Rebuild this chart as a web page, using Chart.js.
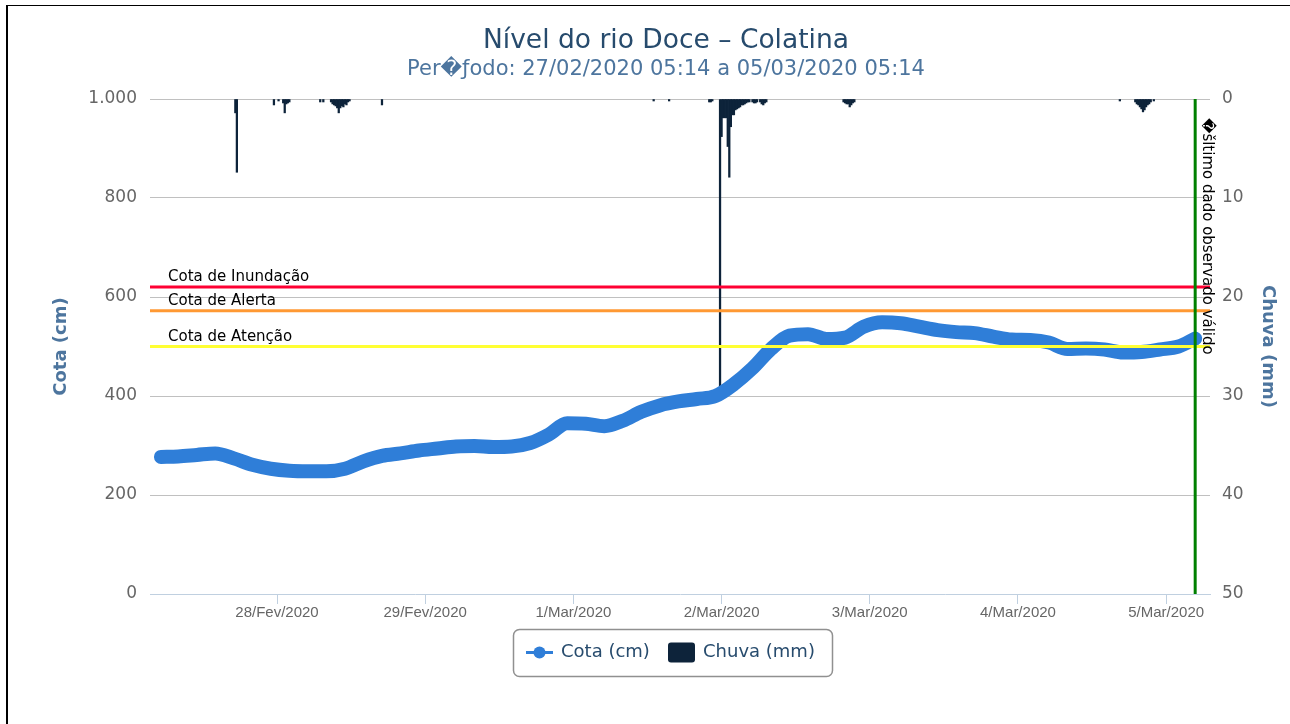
<!DOCTYPE html>
<html>
<head>
<meta charset="utf-8">
<script src="https://cdn.jsdelivr.net/npm/chart.js@4.4.1/dist/chart.umd.min.js"></script>
<style>
  body { margin: 0; background: #fff; overflow: hidden; }
  #wrap { position: relative; width: 1290px; height: 724px; overflow: hidden; }
  #myChart { display: block; }
  .frameL { position: absolute; left: 6px; top: 5px; width: 2px; height: 719px; background: #000; }
  .frameT { position: absolute; left: 6px; top: 5px; width: 1284px; height: 1px; background: #000; }
</style>
</head>
<body>
<div id="wrap">
  <canvas id="myChart" width="1332" height="724"></canvas>
  <div class="frameL"></div>
  <div class="frameT"></div>
</div>
<script>
// horas contadas desde 27/02/2020 00:00
let cotaHoras = [5.2, 8, 11, 14, 17, 20, 23, 26, 29, 32, 35, 38, 41, 44, 47, 50, 53, 56, 59, 62,
  65, 68, 71, 74, 77, 80, 83, 86, 89, 92, 95, 98, 101, 104, 107, 110, 113, 116, 119, 122,
  125, 128, 131, 134, 137, 140, 143, 146, 149, 152, 155, 158, 161, 164, 167, 170, 172.7];
let cotaValores = [277, 278, 281, 284, 274, 261, 253, 249, 248, 248, 253, 268, 279, 284, 290, 294, 298, 299, 297, 298,
  305, 322, 345, 344, 339, 350, 368, 381, 389, 394, 400, 424, 456, 495, 522, 525, 515, 518, 540, 549,
  547, 540, 533, 529, 527, 520, 514, 513, 508, 495, 496, 494, 488, 489, 494, 500, 516];

let chuvaHoras = [17.25, 17.5, 23.5, 24.25, 25, 25.25, 25.5, 25.75, 26, 31, 31.5,
  32.75, 33, 33.25, 33.5, 33.75, 34, 34.25, 34.5, 34.75, 35, 35.25, 35.5, 35.75, 41,
  85, 87.5, 94, 94.25, 94.5, 95.75, 96, 96.25, 96.5, 96.75, 97, 97.25, 97.5, 97.75, 98,
  98.25, 98.5, 98.75, 99, 99.25, 99.5, 99.75, 100, 100.25, 100.5, 101, 101.25, 101.5, 101.75,
  102.25, 102.5, 102.75, 103, 103.25,
  115.75, 116, 116.25, 116.5, 116.75, 117, 117.25, 117.5,
  160.5, 163, 163.25, 163.5, 163.75, 164, 164.25, 164.5, 164.75, 165, 165.25, 165.5, 166];
let chuvaValores = [1.4, 7.4, 0.6, 0.2, 0.4, 1.4, 0.5, 0.4, 0.3, 0.3, 0.3,
  0.3, 0.5, 0.6, 0.7, 0.9, 1.4, 0.9, 0.7, 0.8, 0.5, 0.6, 0.3, 0.2, 0.6,
  0.2, 0.2, 0.3, 0.3, 0.2, 30, 3.8, 1.9, 1.9, 1.9, 4.8, 7.9, 2.8, 1.6, 1.6,
  1.1, 1.0, 0.9, 0.8, 0.6, 0.6, 0.5, 0.4, 0.3, 0.3, 0.3, 0.4, 0.4, 0.3,
  0.3, 0.5, 0.6, 0.4, 0.3,
  0.3, 0.4, 0.5, 0.5, 0.8, 0.6, 0.4, 0.3,
  0.2, 0.3, 0.5, 0.6, 0.8, 1.0, 1.3, 1.1, 0.8, 0.6, 0.5, 0.3, 0.2];

let diasTicks = [24, 48, 72, 96, 120, 144, 168];
let diasLabels = ['28/Fev/2020', '29/Fev/2020', '1/Mar/2020', '2/Mar/2020', '3/Mar/2020', '4/Mar/2020', '5/Mar/2020'];

let cotasRef = [620, 572, 500];
let cotasNomes = ['Cota de Inundação', 'Cota de Alerta', 'Cota de Atenção'];
let cotasCores = ['#ff0033', '#ff9933', '#ffff33'];
let ultimoDado = 172.7;

Chart.defaults.font.family = '"DejaVu Sans", sans-serif';

let linhasCota = {
  id: 'linhasCota',
  afterDatasetsDraw(chart) {
    let {ctx, chartArea: a, scales} = chart;
    ctx.save();
    cotasRef.forEach((v, i) => {
      let y = scales.y.getPixelForValue(v);
      ctx.strokeStyle = cotasCores[i];
      ctx.lineWidth = 3;
      ctx.beginPath();
      ctx.moveTo(a.left, y);
      ctx.lineTo(a.right, y);
      ctx.stroke();
      ctx.fillStyle = '#000';
      ctx.font = '15px "DejaVu Sans"';
      ctx.textAlign = 'left';
      ctx.textBaseline = 'alphabetic';
      ctx.fillText(cotasNomes[i], a.left + 18, y - 6);
    });
    let x = scales.x.getPixelForValue(ultimoDado);
    ctx.strokeStyle = '#008000';
    ctx.lineWidth = 3;
    ctx.beginPath();
    ctx.moveTo(x, a.top);
    ctx.lineTo(x, a.bottom);
    ctx.stroke();
    ctx.translate(x + 4, a.top + 19);
    ctx.rotate(Math.PI / 2);
    ctx.fillStyle = '#000';
    ctx.font = '15px "DejaVu Sans"';
    ctx.textBaseline = 'bottom';
    ctx.fillText('\uFFFDšltimo dado observado válido', 0, 0);
    ctx.restore();
  }
};

let legenda = {
  id: 'legenda',
  afterDraw(chart) {
    let ctx = chart.ctx;
    ctx.save();
    ctx.strokeStyle = '#909090';
    ctx.lineWidth = 1.5;
    ctx.beginPath();
    ctx.roundRect(513.5, 629.5, 319, 47, 6);
    ctx.stroke();
    let cy = 652.5;
    ctx.strokeStyle = '#2f7ed8';
    ctx.lineWidth = 3;
    ctx.beginPath();
    ctx.moveTo(526, cy);
    ctx.lineTo(553, cy);
    ctx.stroke();
    ctx.fillStyle = '#2f7ed8';
    ctx.beginPath();
    ctx.arc(539.5, cy, 6, 0, Math.PI * 2);
    ctx.fill();
    ctx.fillStyle = '#0d233a';
    ctx.beginPath();
    ctx.roundRect(668, cy - 10, 27, 20, 3);
    ctx.fill();
    ctx.fillStyle = '#274b6d';
    ctx.font = '18px "DejaVu Sans"';
    ctx.textBaseline = 'middle';
    ctx.textAlign = 'left';
    ctx.fillText('Cota (cm)', 561, cy);
    ctx.fillText('Chuva (mm)', 703, cy);
    ctx.restore();
  }
};

let ctx = document.getElementById('myChart').getContext('2d');

let myChart = new Chart(ctx, {
  type: 'line',
  data: {
    datasets: [{
      type: 'line',
      label: 'Cota (cm)',
      data: cotaHoras.map((h, i) => ({x: h, y: cotaValores[i]})),
      yAxisID: 'y',
      borderColor: '#2f7ed8',
      backgroundColor: '#2f7ed8',
      borderWidth: 14,
      pointRadius: 0,
      cubicInterpolationMode: 'monotone',
      borderCapStyle: 'round',
      borderJoinStyle: 'round',
      order: 0
    }, {
      type: 'bar',
      label: 'Chuva (mm)',
      data: chuvaHoras.map((h, i) => ({x: h, y: chuvaValores[i]})),
      yAxisID: 'y1',
      backgroundColor: '#0d233a',
      barThickness: 1.6,
      order: 1
    }]
  },
  options: {
    responsive: false,
    animation: false,
    devicePixelRatio: 1,
    layout: { padding: 0 },
    plugins: {
      legend: { display: false },
      tooltip: { enabled: false },
      title: {
        display: true,
        text: 'Nível do rio Doce – Colatina',
        color: '#274b6d',
        font: { size: 26.5, weight: 'normal' },
        padding: { top: 25, bottom: 0 }
      },
      subtitle: {
        display: true,
        text: 'Per\uFFFDƒodo: 27/02/2020 05:14 a 05/03/2020 05:14',
        color: '#4d759e',
        font: { size: 21 },
        padding: { top: 0.5, bottom: 16.5 }
      }
    },
    scales: {
      x: {
        type: 'linear',
        position: 'bottom',
        min: 3.43,
        max: 175.1,
        offset: false,
        afterBuildTicks: (s) => { s.ticks = diasTicks.map(v => ({value: v})); },
        afterFit: (s) => { s.height = 130; },
        ticks: {
          callback: (value) => diasLabels[diasTicks.indexOf(value)],
          color: '#666',
          font: { family: '"Liberation Sans"', size: 15 },
          padding: 0,
          maxRotation: 0,
          autoSkip: false
        },
        grid: { drawOnChartArea: false, drawTicks: true, tickLength: 10, color: '#C0D0E0', offset: false },
        border: { color: '#C0D0E0' }
      },
      y: {
        position: 'left',
        min: 0,
        max: 1000,
        afterFit: (s) => { s.width = 150; },
        ticks: {
          stepSize: 200,
          callback: (v) => v.toLocaleString('de-DE'),
          color: '#666',
          font: { size: 17 },
          padding: 13
        },
        grid: {
          color: (c) => c.tick && c.tick.value === 0 ? 'rgba(0,0,0,0)' : '#C0C0C0',
          drawTicks: false
        },
        border: { display: false },
        title: {
          display: true,
          text: 'Cota (cm)',
          color: '#4d759e',
          font: { size: 18, weight: 'bold' },
          padding: { top: 51, bottom: 0 }
        }
      },
      y1: {
        position: 'right',
        min: 0,
        max: 50,
        reverse: true,
        afterFit: (s) => { s.width = 122; },
        ticks: {
          stepSize: 10,
          color: '#666',
          font: { size: 17 },
          padding: 12
        },
        grid: { drawOnChartArea: false, drawTicks: false },
        border: { display: false },
        title: {
          display: true,
          text: 'Chuva (mm)',
          color: '#4d759e',
          font: { size: 18, weight: 'bold' },
          padding: { top: 54, bottom: 0 }
        }
      }
    }
  },
  plugins: [linhasCota, legenda]
});
</script>
</body>
</html>
